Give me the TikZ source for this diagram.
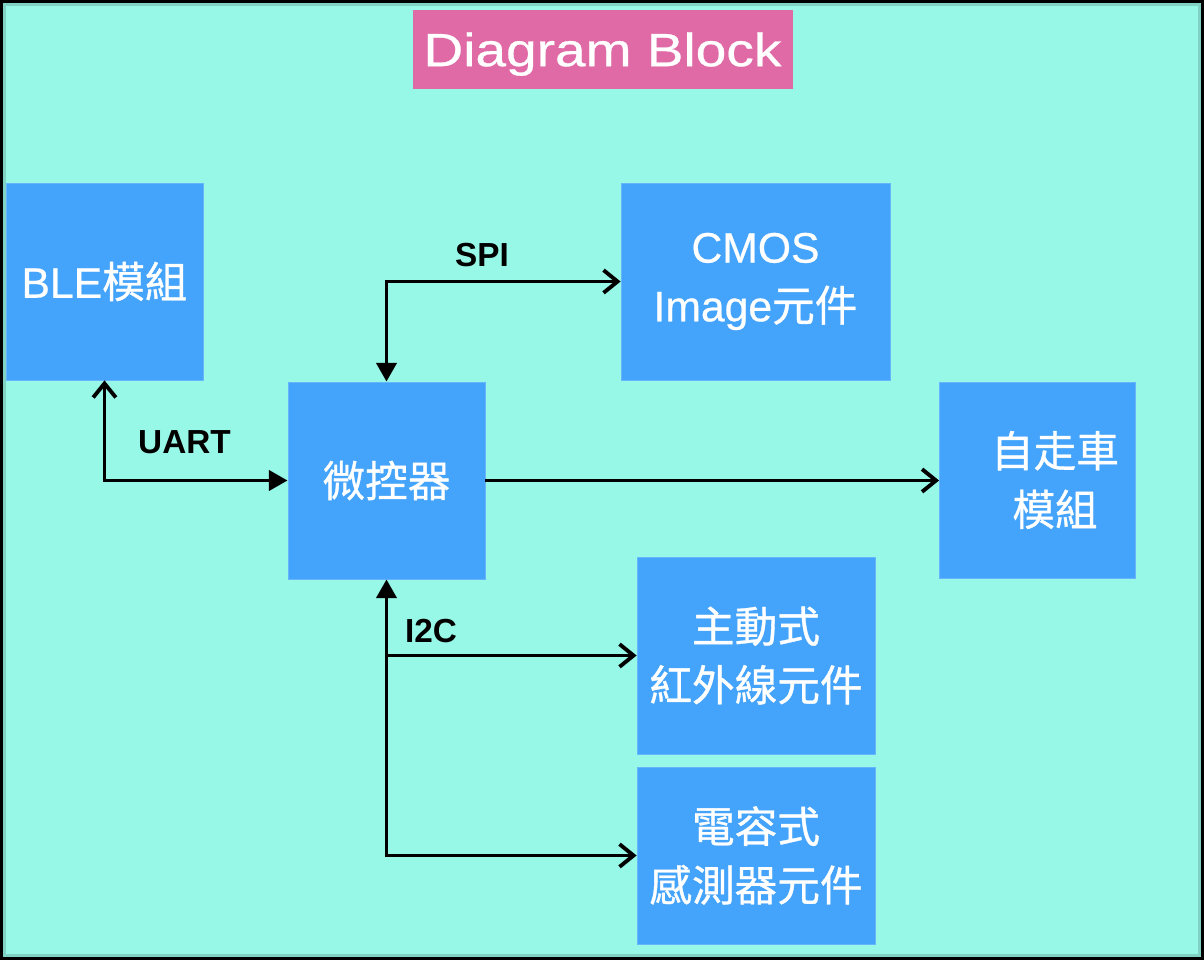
\documentclass[tikz,border=0pt]{standalone}
\usepackage{fontspec}
\setmainfont{Liberation Sans}
\newfontfamily\bodyfont[FakeBold=0.6]{Liberation Sans}
\newfontfamily\cjk[FakeBold=0.8]{Noto Sans CJK TC}
\newfontfamily\titlefont[FakeStretch=1.18,FakeBold=0.6]{Liberation Sans}
\usetikzlibrary{arrows.meta}
\definecolor{bgcyan}{RGB}{152,248,232}
\definecolor{boxblue}{RGB}{68,163,250}
\definecolor{titlepink}{RGB}{224,106,166}
\begin{document}
\begin{tikzpicture}[x=0.75pt,y=-0.75pt,
  blk/.style={fill=boxblue, draw=boxblue!80!white, line width=0.6pt, inner sep=0pt,
    text=white, align=center, font=\bodyfont\fontsize{32}{44}\selectfont},
  cjkblk/.style={blk, font=\cjk\fontsize{32}{44}\selectfont},
  conn/.style={line width=2.9pt, draw=black},
  tri/.tip={Triangle[length=14pt,width=15pt]},
  barb/.tip={Straight Barb[length=10.5pt,width=17pt]},
  lbl/.style={font=\bfseries\fontsize{25}{30}\selectfont, anchor=base, inner sep=0pt}
]
\useasboundingbox (0,0) rectangle (1204,960);
% frame and background
\fill[black] (0,0) rectangle (1204,960);
\fill[bgcyan] (3,3) rectangle (1201,957);
\draw[line width=2.25pt, bgcyan!70!black, opacity=0.5] (4.5,4.5) rectangle (1199.5,955.5);

% title
\node[fill=titlepink, minimum width=285pt, minimum height=59.25pt, inner sep=0pt,
  text=white, font=\titlefont\fontsize{35}{40}\selectfont, text height=25pt, text depth=0pt]
  (title) at (602.5,49.5) {Diagram Block};

% blocks
\node[blk, minimum width=147.75pt, minimum height=147.75pt] (ble) at (104.5,281.5) {BLE{\cjk 模組}};
\node[blk, minimum width=201.75pt, minimum height=147.75pt] (cmos) at (755.5,281.5) {CMOS\\Image{\cjk 元件}};
\node[cjkblk, minimum width=147.75pt, minimum height=147.75pt] (mcu) at (386.5,480.5) {微控器};
\node[cjkblk, minimum width=147pt, minimum height=147pt] (car) at (1037.5,480) {};
\node[font=\cjk\fontsize{32}{44}\selectfont, text=white, align=center, inner sep=0pt] (carlbl) at (1055,480) {自走車\\模組};
\node[cjkblk, minimum width=178.5pt, minimum height=147.75pt] (ir) at (756,655.5) {主動式\\紅外線元件};
\node[cjkblk, minimum width=178.5pt, minimum height=132.75pt] (cap) at (756,855.5) {電容式\\感測器元件};

% connectors
\draw[conn, barb-tri] (ble.south) |- (mcu.west);
\draw[conn, tri-barb] (mcu.north) |- (cmos.west);
\draw[conn, -barb] (mcu.east) -- (mcu.east -| car.west);
\draw[conn, tri-barb] (mcu.south) |- (cap.west);
\draw[conn, -barb] (mcu.south |- ir.west) -- (ir.west);

% labels
\node[lbl] (uart) at (184.5,453) {UART};
\node[lbl] (spi) at (482,266) {SPI};
\node[lbl] (i2c) at (431,642) {I2C};
\end{tikzpicture}
\end{document}
